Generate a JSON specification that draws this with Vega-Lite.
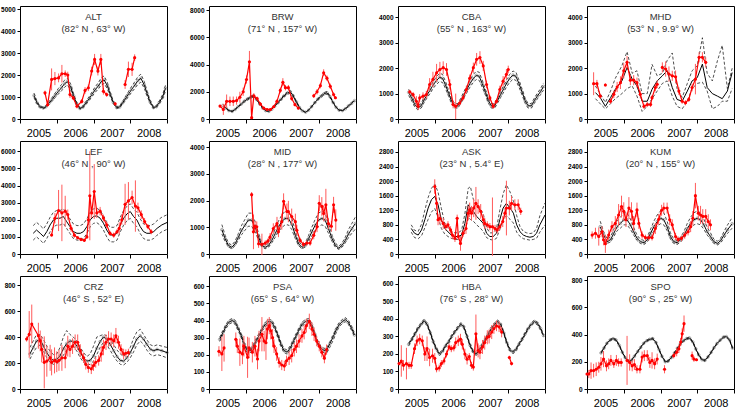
{
"$schema":"https://vega.github.io/schema/vega-lite/v6.json",
"padding":{"left":0,"top":5,"right":0,"bottom":0},
"background":"#ffffff",
"columns":4,
"spacing":{"row":22,"column":42},
"bounds":"flush",
"config":{
 "view":{"stroke":"#000","strokeWidth":1},
 "axis":{"domain":false,"grid":false,"labelFont":"Liberation Sans","tickColor":"#000","labelColor":"#000"},
 "axisY":{"labelFontSize":6.5,"labelFontWeight":"bold","tickSize":3,"labelPadding":2,"format":"d"},
 "axisX":{"labelFontSize":11,"labelPadding":4,"tickSize":4},
 "title":{"offset":-27,"fontSize":9.5,"font":"Liberation Sans","fontWeight":"normal","color":"#333","anchor":"middle","lineHeight":11.5},
 "line":{"clip":true},
 "point":{"clip":true}
},
"datasets":{
"m":[
{"s":"ALT","t":2005.38,"v":1070,"l":970,"h":1180},{"s":"ALT","t":2005.46,"v":750,"l":690,"h":820},{"s":"ALT","t":2005.54,"v":560,"l":520,"h":610},{"s":"ALT","t":2005.63,"v":500,"l":470,"h":540},{"s":"ALT","t":2005.71,"v":560,"l":520,"h":610},{"s":"ALT","t":2005.79,"v":720,"l":660,"h":790},{"s":"ALT","t":2005.88,"v":900,"l":820,"h":990},{"s":"ALT","t":2005.96,"v":1080,"l":980,"h":1190},{"s":"ALT","t":2006.04,"v":1250,"l":1130,"h":1380},{"s":"ALT","t":2006.13,"v":1420,"l":1280,"h":1570},{"s":"ALT","t":2006.21,"v":1600,"l":1440,"h":1760},{"s":"ALT","t":2006.29,"v":1700,"l":1550,"h":1850},{"s":"ALT","t":2006.38,"v":1450,"l":1320,"h":1590},{"s":"ALT","t":2006.46,"v":1050,"l":950,"h":1150},{"s":"ALT","t":2006.54,"v":700,"l":640,"h":770},{"s":"ALT","t":2006.63,"v":480,"l":450,"h":520},{"s":"ALT","t":2006.71,"v":540,"l":500,"h":590},{"s":"ALT","t":2006.79,"v":720,"l":660,"h":790},{"s":"ALT","t":2006.88,"v":920,"l":840,"h":1010},{"s":"ALT","t":2006.96,"v":1120,"l":1020,"h":1230},{"s":"ALT","t":2007.04,"v":1320,"l":1200,"h":1450},{"s":"ALT","t":2007.13,"v":1500,"l":1360,"h":1650},{"s":"ALT","t":2007.21,"v":1700,"l":1540,"h":1870},{"s":"ALT","t":2007.29,"v":1780,"l":1620,"h":1960},{"s":"ALT","t":2007.38,"v":1500,"l":1360,"h":1650},{"s":"ALT","t":2007.46,"v":1100,"l":1000,"h":1210},{"s":"ALT","t":2007.54,"v":750,"l":690,"h":820},{"s":"ALT","t":2007.63,"v":520,"l":480,"h":570},{"s":"ALT","t":2007.71,"v":540,"l":500,"h":590},{"s":"ALT","t":2007.79,"v":730,"l":670,"h":800},{"s":"ALT","t":2007.88,"v":950,"l":860,"h":1050},{"s":"ALT","t":2007.96,"v":1150,"l":1040,"h":1270},{"s":"ALT","t":2008.04,"v":1350,"l":1220,"h":1490},{"s":"ALT","t":2008.13,"v":1550,"l":1400,"h":1710},{"s":"ALT","t":2008.21,"v":1750,"l":1580,"h":1930},{"s":"ALT","t":2008.29,"v":1850,"l":1680,"h":2040},{"s":"ALT","t":2008.38,"v":1550,"l":1400,"h":1710},{"s":"ALT","t":2008.46,"v":1150,"l":1040,"h":1270},{"s":"ALT","t":2008.54,"v":780,"l":710,"h":860},{"s":"ALT","t":2008.63,"v":520,"l":480,"h":570},{"s":"ALT","t":2008.71,"v":560,"l":520,"h":610},{"s":"ALT","t":2008.79,"v":750,"l":690,"h":820},{"s":"ALT","t":2008.88,"v":1000,"l":910,"h":1100},{"s":"ALT","t":2008.96,"v":1400,"l":1270,"h":1540},
{"s":"BRW","t":2005.38,"v":1000,"l":950,"h":1050},{"s":"BRW","t":2005.46,"v":800,"l":760,"h":840},{"s":"BRW","t":2005.54,"v":620,"l":590,"h":650},{"s":"BRW","t":2005.63,"v":560,"l":530,"h":590},{"s":"BRW","t":2005.71,"v":700,"l":665,"h":735},{"s":"BRW","t":2005.79,"v":900,"l":855,"h":945},{"s":"BRW","t":2005.88,"v":1100,"l":1045,"h":1155},{"s":"BRW","t":2005.96,"v":1300,"l":1235,"h":1365},{"s":"BRW","t":2006.04,"v":1450,"l":1380,"h":1520},{"s":"BRW","t":2006.13,"v":1600,"l":1520,"h":1680},{"s":"BRW","t":2006.21,"v":1680,"l":1600,"h":1760},{"s":"BRW","t":2006.29,"v":1450,"l":1380,"h":1520},{"s":"BRW","t":2006.38,"v":1100,"l":1045,"h":1155},{"s":"BRW","t":2006.46,"v":800,"l":760,"h":840},{"s":"BRW","t":2006.54,"v":620,"l":590,"h":650},{"s":"BRW","t":2006.63,"v":560,"l":530,"h":590},{"s":"BRW","t":2006.71,"v":720,"l":685,"h":755},{"s":"BRW","t":2006.79,"v":950,"l":900,"h":1000},{"s":"BRW","t":2006.88,"v":1200,"l":1140,"h":1260},{"s":"BRW","t":2006.96,"v":1450,"l":1380,"h":1520},{"s":"BRW","t":2007.04,"v":1700,"l":1615,"h":1785},{"s":"BRW","t":2007.13,"v":1900,"l":1805,"h":1995},{"s":"BRW","t":2007.21,"v":2000,"l":1900,"h":2100},{"s":"BRW","t":2007.29,"v":1700,"l":1615,"h":1785},{"s":"BRW","t":2007.38,"v":1250,"l":1190,"h":1310},{"s":"BRW","t":2007.46,"v":850,"l":810,"h":890},{"s":"BRW","t":2007.54,"v":600,"l":570,"h":630},{"s":"BRW","t":2007.63,"v":500,"l":475,"h":525},{"s":"BRW","t":2007.71,"v":650,"l":620,"h":680},{"s":"BRW","t":2007.79,"v":900,"l":855,"h":945},{"s":"BRW","t":2007.88,"v":1200,"l":1140,"h":1260},{"s":"BRW","t":2007.96,"v":1450,"l":1380,"h":1520},{"s":"BRW","t":2008.04,"v":1650,"l":1570,"h":1730},{"s":"BRW","t":2008.13,"v":1850,"l":1760,"h":1940},{"s":"BRW","t":2008.21,"v":1930,"l":1830,"h":2030},{"s":"BRW","t":2008.29,"v":1650,"l":1570,"h":1730},{"s":"BRW","t":2008.38,"v":1200,"l":1140,"h":1260},{"s":"BRW","t":2008.46,"v":850,"l":810,"h":890},{"s":"BRW","t":2008.54,"v":650,"l":620,"h":680},{"s":"BRW","t":2008.63,"v":620,"l":590,"h":650},{"s":"BRW","t":2008.71,"v":750,"l":710,"h":790},{"s":"BRW","t":2008.79,"v":950,"l":900,"h":1000},{"s":"BRW","t":2008.88,"v":1150,"l":1090,"h":1210},{"s":"BRW","t":2008.96,"v":1350,"l":1280,"h":1420},
{"s":"CBA","t":2005.29,"v":1050,"l":930,"h":1170},{"s":"CBA","t":2005.38,"v":800,"l":690,"h":910},{"s":"CBA","t":2005.46,"v":560,"l":470,"h":650},{"s":"CBA","t":2005.54,"v":440,"l":360,"h":520},{"s":"CBA","t":2005.63,"v":520,"l":430,"h":610},{"s":"CBA","t":2005.71,"v":750,"l":645,"h":855},{"s":"CBA","t":2005.79,"v":950,"l":830,"h":1070},{"s":"CBA","t":2005.88,"v":1150,"l":1020,"h":1280},{"s":"CBA","t":2005.96,"v":1350,"l":1210,"h":1490},{"s":"CBA","t":2006.04,"v":1500,"l":1350,"h":1650},{"s":"CBA","t":2006.13,"v":1640,"l":1480,"h":1800},{"s":"CBA","t":2006.21,"v":1600,"l":1440,"h":1760},{"s":"CBA","t":2006.29,"v":1350,"l":1210,"h":1490},{"s":"CBA","t":2006.38,"v":1000,"l":880,"h":1120},{"s":"CBA","t":2006.46,"v":700,"l":600,"h":800},{"s":"CBA","t":2006.54,"v":520,"l":430,"h":610},{"s":"CBA","t":2006.63,"v":520,"l":430,"h":610},{"s":"CBA","t":2006.71,"v":720,"l":620,"h":820},{"s":"CBA","t":2006.79,"v":950,"l":830,"h":1070},{"s":"CBA","t":2006.88,"v":1180,"l":1050,"h":1310},{"s":"CBA","t":2006.96,"v":1400,"l":1260,"h":1540},{"s":"CBA","t":2007.04,"v":1580,"l":1420,"h":1740},{"s":"CBA","t":2007.13,"v":1720,"l":1560,"h":1880},{"s":"CBA","t":2007.21,"v":1680,"l":1520,"h":1840},{"s":"CBA","t":2007.29,"v":1400,"l":1260,"h":1540},{"s":"CBA","t":2007.38,"v":1050,"l":930,"h":1170},{"s":"CBA","t":2007.46,"v":720,"l":620,"h":820},{"s":"CBA","t":2007.54,"v":520,"l":430,"h":610},{"s":"CBA","t":2007.63,"v":520,"l":430,"h":610},{"s":"CBA","t":2007.71,"v":730,"l":630,"h":830},{"s":"CBA","t":2007.79,"v":960,"l":840,"h":1080},{"s":"CBA","t":2007.88,"v":1200,"l":1070,"h":1330},{"s":"CBA","t":2007.96,"v":1420,"l":1280,"h":1560},{"s":"CBA","t":2008.04,"v":1600,"l":1440,"h":1760},{"s":"CBA","t":2008.13,"v":1730,"l":1570,"h":1890},{"s":"CBA","t":2008.21,"v":1680,"l":1520,"h":1840},{"s":"CBA","t":2008.29,"v":1400,"l":1260,"h":1540},{"s":"CBA","t":2008.38,"v":1050,"l":930,"h":1170},{"s":"CBA","t":2008.46,"v":720,"l":620,"h":820},{"s":"CBA","t":2008.54,"v":520,"l":430,"h":610},{"s":"CBA","t":2008.63,"v":520,"l":430,"h":610},{"s":"CBA","t":2008.71,"v":720,"l":620,"h":820},{"s":"CBA","t":2008.79,"v":900,"l":790,"h":1010},{"s":"CBA","t":2008.88,"v":1080,"l":960,"h":1200},{"s":"CBA","t":2008.96,"v":1280,"l":1140,"h":1420},
{"s":"MHD","t":2005.23,"v":1040,"l":800,"h":1300},{"s":"MHD","t":2005.36,"v":840,"l":600,"h":1000},{"s":"MHD","t":2005.5,"v":500,"l":400,"h":650},{"s":"MHD","t":2005.64,"v":840,"l":600,"h":1100},{"s":"MHD","t":2005.77,"v":1170,"l":800,"h":1600},{"s":"MHD","t":2005.95,"v":1500,"l":1000,"h":2100},{"s":"MHD","t":2006.09,"v":2030,"l":1200,"h":2650},{"s":"MHD","t":2006.23,"v":1570,"l":1300,"h":1800},{"s":"MHD","t":2006.36,"v":1300,"l":900,"h":1900},{"s":"MHD","t":2006.5,"v":700,"l":300,"h":1000},{"s":"MHD","t":2006.64,"v":700,"l":500,"h":1000},{"s":"MHD","t":2006.77,"v":1170,"l":800,"h":2150},{"s":"MHD","t":2006.91,"v":1500,"l":1100,"h":1700},{"s":"MHD","t":2007.05,"v":1700,"l":1400,"h":1800},{"s":"MHD","t":2007.18,"v":1900,"l":1500,"h":2300},{"s":"MHD","t":2007.32,"v":1240,"l":900,"h":2600},{"s":"MHD","t":2007.45,"v":770,"l":500,"h":1200},{"s":"MHD","t":2007.59,"v":700,"l":400,"h":850},{"s":"MHD","t":2007.73,"v":1100,"l":700,"h":1400},{"s":"MHD","t":2007.86,"v":1500,"l":1200,"h":1900},{"s":"MHD","t":2008.0,"v":1630,"l":1400,"h":2100},{"s":"MHD","t":2008.14,"v":2160,"l":1450,"h":3200},{"s":"MHD","t":2008.27,"v":1240,"l":1100,"h":1800},{"s":"MHD","t":2008.41,"v":1000,"l":400,"h":1500},{"s":"MHD","t":2008.55,"v":900,"l":500,"h":2300},{"s":"MHD","t":2008.68,"v":800,"l":700,"h":2900},{"s":"MHD","t":2008.82,"v":1100,"l":700,"h":1200},{"s":"MHD","t":2008.95,"v":1830,"l":1200,"h":2000},
{"s":"LEF","t":2005.36,"v":1210,"l":810,"h":1660},{"s":"LEF","t":2005.45,"v":1400,"l":1000,"h":1850},{"s":"LEF","t":2005.55,"v":1210,"l":810,"h":1660},{"s":"LEF","t":2005.64,"v":1020,"l":620,"h":1470},{"s":"LEF","t":2005.73,"v":1310,"l":910,"h":1760},{"s":"LEF","t":2005.82,"v":1700,"l":1300,"h":2150},{"s":"LEF","t":2005.91,"v":1990,"l":1590,"h":2440},{"s":"LEF","t":2006.0,"v":2090,"l":1690,"h":2540},{"s":"LEF","t":2006.09,"v":2090,"l":1690,"h":2540},{"s":"LEF","t":2006.18,"v":2190,"l":1790,"h":2640},{"s":"LEF","t":2006.27,"v":1890,"l":1490,"h":2340},{"s":"LEF","t":2006.36,"v":1600,"l":1200,"h":2050},{"s":"LEF","t":2006.45,"v":1310,"l":910,"h":1760},{"s":"LEF","t":2006.55,"v":1210,"l":810,"h":1660},{"s":"LEF","t":2006.64,"v":1210,"l":810,"h":1660},{"s":"LEF","t":2006.73,"v":1310,"l":910,"h":1760},{"s":"LEF","t":2006.82,"v":1600,"l":1200,"h":2050},{"s":"LEF","t":2006.91,"v":1990,"l":1590,"h":2440},{"s":"LEF","t":2007.0,"v":2190,"l":1790,"h":2640},{"s":"LEF","t":2007.09,"v":2230,"l":1830,"h":2680},{"s":"LEF","t":2007.18,"v":2090,"l":1690,"h":2540},{"s":"LEF","t":2007.27,"v":1800,"l":1400,"h":2250},{"s":"LEF","t":2007.36,"v":1400,"l":1000,"h":1850},{"s":"LEF","t":2007.45,"v":1110,"l":710,"h":1560},{"s":"LEF","t":2007.55,"v":1110,"l":710,"h":1560},{"s":"LEF","t":2007.64,"v":1210,"l":810,"h":1660},{"s":"LEF","t":2007.73,"v":1700,"l":1300,"h":2150},{"s":"LEF","t":2007.82,"v":2090,"l":1690,"h":2540},{"s":"LEF","t":2007.91,"v":2340,"l":1940,"h":2790},{"s":"LEF","t":2008.0,"v":2480,"l":2080,"h":2930},{"s":"LEF","t":2008.09,"v":2190,"l":1790,"h":2640},{"s":"LEF","t":2008.18,"v":1990,"l":1590,"h":2440},{"s":"LEF","t":2008.27,"v":1600,"l":1200,"h":2050},{"s":"LEF","t":2008.36,"v":1310,"l":910,"h":1760},{"s":"LEF","t":2008.45,"v":1210,"l":810,"h":1660},{"s":"LEF","t":2008.55,"v":1210,"l":810,"h":1660},{"s":"LEF","t":2008.64,"v":1310,"l":910,"h":1760},{"s":"LEF","t":2008.73,"v":1500,"l":1100,"h":1950},{"s":"LEF","t":2008.86,"v":1700,"l":1300,"h":2150},{"s":"LEF","t":2009.0,"v":1840,"l":1440,"h":2290},
{"s":"MID","t":2005.35,"v":910,"l":750,"h":1100},{"s":"MID","t":2005.44,"v":570,"l":470,"h":700},{"s":"MID","t":2005.53,"v":320,"l":260,"h":410},{"s":"MID","t":2005.62,"v":250,"l":200,"h":330},{"s":"MID","t":2005.71,"v":380,"l":310,"h":480},{"s":"MID","t":2005.8,"v":630,"l":520,"h":770},{"s":"MID","t":2005.89,"v":890,"l":730,"h":1080},{"s":"MID","t":2005.98,"v":1080,"l":890,"h":1300},{"s":"MID","t":2006.07,"v":1270,"l":1040,"h":1530},{"s":"MID","t":2006.16,"v":1270,"l":1040,"h":1530},{"s":"MID","t":2006.25,"v":1020,"l":840,"h":1230},{"s":"MID","t":2006.35,"v":630,"l":520,"h":770},{"s":"MID","t":2006.44,"v":320,"l":260,"h":410},{"s":"MID","t":2006.53,"v":250,"l":200,"h":330},{"s":"MID","t":2006.62,"v":320,"l":260,"h":410},{"s":"MID","t":2006.71,"v":510,"l":420,"h":630},{"s":"MID","t":2006.8,"v":760,"l":620,"h":930},{"s":"MID","t":2006.89,"v":1020,"l":840,"h":1230},{"s":"MID","t":2006.98,"v":1210,"l":990,"h":1460},{"s":"MID","t":2007.07,"v":1330,"l":1090,"h":1600},{"s":"MID","t":2007.16,"v":1330,"l":1090,"h":1600},{"s":"MID","t":2007.25,"v":1120,"l":920,"h":1350},{"s":"MID","t":2007.35,"v":700,"l":570,"h":860},{"s":"MID","t":2007.44,"v":380,"l":310,"h":480},{"s":"MID","t":2007.53,"v":250,"l":200,"h":330},{"s":"MID","t":2007.62,"v":320,"l":260,"h":410},{"s":"MID","t":2007.71,"v":570,"l":470,"h":700},{"s":"MID","t":2007.8,"v":830,"l":680,"h":1010},{"s":"MID","t":2007.89,"v":1080,"l":890,"h":1300},{"s":"MID","t":2007.98,"v":1270,"l":1040,"h":1530},{"s":"MID","t":2008.07,"v":1330,"l":1090,"h":1600},{"s":"MID","t":2008.16,"v":1270,"l":1040,"h":1530},{"s":"MID","t":2008.25,"v":950,"l":780,"h":1150},{"s":"MID","t":2008.35,"v":570,"l":470,"h":700},{"s":"MID","t":2008.44,"v":320,"l":260,"h":410},{"s":"MID","t":2008.53,"v":220,"l":180,"h":290},{"s":"MID","t":2008.62,"v":320,"l":260,"h":410},{"s":"MID","t":2008.71,"v":510,"l":420,"h":630},{"s":"MID","t":2008.8,"v":760,"l":620,"h":930},{"s":"MID","t":2008.89,"v":950,"l":780,"h":1150},{"s":"MID","t":2008.98,"v":1140,"l":930,"h":1380},
{"s":"ASK","t":2005.36,"v":700,"l":600,"h":800},{"s":"ASK","t":2005.45,"v":570,"l":450,"h":650},{"s":"ASK","t":2005.55,"v":520,"l":420,"h":620},{"s":"ASK","t":2005.64,"v":660,"l":500,"h":820},{"s":"ASK","t":2005.73,"v":940,"l":720,"h":1200},{"s":"ASK","t":2005.82,"v":1260,"l":950,"h":1550},{"s":"ASK","t":2005.91,"v":1490,"l":1150,"h":1800},{"s":"ASK","t":2006.0,"v":1580,"l":1250,"h":1920},{"s":"ASK","t":2006.09,"v":1350,"l":1000,"h":1700},{"s":"ASK","t":2006.18,"v":940,"l":700,"h":1250},{"s":"ASK","t":2006.27,"v":700,"l":550,"h":850},{"s":"ASK","t":2006.36,"v":610,"l":480,"h":720},{"s":"ASK","t":2006.45,"v":520,"l":430,"h":620},{"s":"ASK","t":2006.55,"v":480,"l":400,"h":580},{"s":"ASK","t":2006.64,"v":480,"l":400,"h":580},{"s":"ASK","t":2006.73,"v":520,"l":420,"h":650},{"s":"ASK","t":2006.82,"v":840,"l":620,"h":1100},{"s":"ASK","t":2006.91,"v":1350,"l":1000,"h":1800},{"s":"ASK","t":2006.97,"v":1260,"l":950,"h":1850},{"s":"ASK","t":2007.05,"v":1170,"l":900,"h":1500},{"s":"ASK","t":2007.14,"v":1030,"l":800,"h":1350},{"s":"ASK","t":2007.23,"v":940,"l":720,"h":1250},{"s":"ASK","t":2007.32,"v":840,"l":620,"h":1100},{"s":"ASK","t":2007.41,"v":570,"l":450,"h":720},{"s":"ASK","t":2007.5,"v":480,"l":400,"h":580},{"s":"ASK","t":2007.59,"v":480,"l":380,"h":580},{"s":"ASK","t":2007.68,"v":570,"l":430,"h":700},{"s":"ASK","t":2007.77,"v":940,"l":680,"h":1200},{"s":"ASK","t":2007.86,"v":1260,"l":950,"h":1650},{"s":"ASK","t":2007.95,"v":1390,"l":1050,"h":1900},{"s":"ASK","t":2008.05,"v":1260,"l":950,"h":1700},{"s":"ASK","t":2008.14,"v":1120,"l":850,"h":1450},{"s":"ASK","t":2008.23,"v":800,"l":600,"h":1050},{"s":"ASK","t":2008.32,"v":610,"l":480,"h":750},{"s":"ASK","t":2008.41,"v":520,"l":420,"h":620},{"s":"ASK","t":2008.5,"v":480,"l":400,"h":580},{"s":"ASK","t":2008.59,"v":460,"l":380,"h":560},{"s":"ASK","t":2008.68,"v":480,"l":400,"h":580},{"s":"ASK","t":2008.77,"v":570,"l":430,"h":700},{"s":"ASK","t":2008.86,"v":800,"l":600,"h":1050},{"s":"ASK","t":2009.0,"v":1070,"l":800,"h":1400},
{"s":"KUM","t":2005.36,"v":750,"l":640,"h":900},{"s":"KUM","t":2005.45,"v":520,"l":440,"h":620},{"s":"KUM","t":2005.55,"v":340,"l":290,"h":410},{"s":"KUM","t":2005.64,"v":390,"l":330,"h":470},{"s":"KUM","t":2005.73,"v":570,"l":480,"h":680},{"s":"KUM","t":2005.82,"v":750,"l":640,"h":900},{"s":"KUM","t":2005.91,"v":840,"l":710,"h":1010},{"s":"KUM","t":2006.0,"v":940,"l":800,"h":1130},{"s":"KUM","t":2006.09,"v":940,"l":800,"h":1130},{"s":"KUM","t":2006.18,"v":800,"l":680,"h":960},{"s":"KUM","t":2006.27,"v":610,"l":520,"h":730},{"s":"KUM","t":2006.36,"v":430,"l":370,"h":520},{"s":"KUM","t":2006.45,"v":340,"l":290,"h":410},{"s":"KUM","t":2006.55,"v":310,"l":260,"h":370},{"s":"KUM","t":2006.64,"v":390,"l":330,"h":470},{"s":"KUM","t":2006.73,"v":570,"l":480,"h":680},{"s":"KUM","t":2006.82,"v":750,"l":640,"h":900},{"s":"KUM","t":2006.91,"v":890,"l":760,"h":1070},{"s":"KUM","t":2007.0,"v":980,"l":830,"h":1180},{"s":"KUM","t":2007.09,"v":940,"l":800,"h":1130},{"s":"KUM","t":2007.18,"v":750,"l":640,"h":900},{"s":"KUM","t":2007.27,"v":480,"l":410,"h":580},{"s":"KUM","t":2007.36,"v":340,"l":290,"h":410},{"s":"KUM","t":2007.45,"v":310,"l":260,"h":370},{"s":"KUM","t":2007.55,"v":390,"l":330,"h":470},{"s":"KUM","t":2007.64,"v":520,"l":440,"h":620},{"s":"KUM","t":2007.73,"v":700,"l":600,"h":840},{"s":"KUM","t":2007.82,"v":840,"l":710,"h":1010},{"s":"KUM","t":2007.91,"v":940,"l":800,"h":1130},{"s":"KUM","t":2008.0,"v":980,"l":830,"h":1180},{"s":"KUM","t":2008.09,"v":940,"l":800,"h":1130},{"s":"KUM","t":2008.18,"v":800,"l":680,"h":960},{"s":"KUM","t":2008.27,"v":610,"l":520,"h":730},{"s":"KUM","t":2008.36,"v":480,"l":410,"h":580},{"s":"KUM","t":2008.45,"v":340,"l":290,"h":410},{"s":"KUM","t":2008.55,"v":290,"l":250,"h":350},{"s":"KUM","t":2008.64,"v":370,"l":310,"h":440},{"s":"KUM","t":2008.73,"v":520,"l":440,"h":620},{"s":"KUM","t":2008.82,"v":660,"l":560,"h":790},{"s":"KUM","t":2008.95,"v":830,"l":710,"h":1000},
{"s":"CRZ","t":2005.27,"v":270,"l":230,"h":320},{"s":"CRZ","t":2005.36,"v":320,"l":280,"h":370},{"s":"CRZ","t":2005.45,"v":370,"l":320,"h":420},{"s":"CRZ","t":2005.55,"v":380,"l":340,"h":420},{"s":"CRZ","t":2005.64,"v":330,"l":290,"h":380},{"s":"CRZ","t":2005.73,"v":280,"l":240,"h":330},{"s":"CRZ","t":2005.82,"v":240,"l":205,"h":290},{"s":"CRZ","t":2005.91,"v":220,"l":190,"h":265},{"s":"CRZ","t":2006.0,"v":230,"l":195,"h":270},{"s":"CRZ","t":2006.09,"v":255,"l":215,"h":320},{"s":"CRZ","t":2006.18,"v":310,"l":260,"h":400},{"s":"CRZ","t":2006.27,"v":350,"l":300,"h":450},{"s":"CRZ","t":2006.36,"v":370,"l":330,"h":420},{"s":"CRZ","t":2006.45,"v":365,"l":330,"h":400},{"s":"CRZ","t":2006.55,"v":330,"l":290,"h":370},{"s":"CRZ","t":2006.64,"v":280,"l":240,"h":320},{"s":"CRZ","t":2006.73,"v":240,"l":205,"h":280},{"s":"CRZ","t":2006.82,"v":215,"l":185,"h":250},{"s":"CRZ","t":2006.91,"v":220,"l":190,"h":270},{"s":"CRZ","t":2007.0,"v":255,"l":215,"h":330},{"s":"CRZ","t":2007.09,"v":315,"l":265,"h":400},{"s":"CRZ","t":2007.18,"v":365,"l":320,"h":410},{"s":"CRZ","t":2007.27,"v":400,"l":360,"h":420},{"s":"CRZ","t":2007.36,"v":385,"l":340,"h":410},{"s":"CRZ","t":2007.45,"v":345,"l":300,"h":380},{"s":"CRZ","t":2007.55,"v":295,"l":250,"h":340},{"s":"CRZ","t":2007.64,"v":250,"l":215,"h":300},{"s":"CRZ","t":2007.73,"v":220,"l":190,"h":270},{"s":"CRZ","t":2007.82,"v":215,"l":185,"h":250},{"s":"CRZ","t":2007.91,"v":240,"l":205,"h":275},{"s":"CRZ","t":2008.0,"v":280,"l":240,"h":320},{"s":"CRZ","t":2008.09,"v":330,"l":285,"h":390},{"s":"CRZ","t":2008.18,"v":385,"l":340,"h":440},{"s":"CRZ","t":2008.27,"v":410,"l":370,"h":460},{"s":"CRZ","t":2008.36,"v":385,"l":345,"h":420},{"s":"CRZ","t":2008.45,"v":345,"l":300,"h":380},{"s":"CRZ","t":2008.55,"v":305,"l":265,"h":340},{"s":"CRZ","t":2008.64,"v":295,"l":255,"h":330},{"s":"CRZ","t":2008.73,"v":305,"l":265,"h":340},{"s":"CRZ","t":2008.86,"v":295,"l":255,"h":330},{"s":"CRZ","t":2009.0,"v":280,"l":240,"h":320},
{"s":"PSA","t":2005.29,"v":290,"l":278,"h":302},{"s":"PSA","t":2005.38,"v":330,"l":318,"h":342},{"s":"PSA","t":2005.46,"v":365,"l":353,"h":377},{"s":"PSA","t":2005.54,"v":390,"l":378,"h":402},{"s":"PSA","t":2005.63,"v":400,"l":388,"h":412},{"s":"PSA","t":2005.71,"v":390,"l":378,"h":402},{"s":"PSA","t":2005.79,"v":355,"l":343,"h":367},{"s":"PSA","t":2005.88,"v":310,"l":298,"h":322},{"s":"PSA","t":2005.96,"v":260,"l":248,"h":272},{"s":"PSA","t":2006.04,"v":225,"l":213,"h":237},{"s":"PSA","t":2006.13,"v":225,"l":213,"h":237},{"s":"PSA","t":2006.21,"v":250,"l":238,"h":262},{"s":"PSA","t":2006.29,"v":285,"l":273,"h":297},{"s":"PSA","t":2006.38,"v":320,"l":308,"h":332},{"s":"PSA","t":2006.46,"v":355,"l":343,"h":367},{"s":"PSA","t":2006.54,"v":380,"l":368,"h":392},{"s":"PSA","t":2006.63,"v":395,"l":383,"h":407},{"s":"PSA","t":2006.71,"v":390,"l":378,"h":402},{"s":"PSA","t":2006.79,"v":360,"l":348,"h":372},{"s":"PSA","t":2006.88,"v":310,"l":298,"h":322},{"s":"PSA","t":2006.96,"v":260,"l":248,"h":272},{"s":"PSA","t":2007.04,"v":225,"l":213,"h":237},{"s":"PSA","t":2007.13,"v":215,"l":203,"h":227},{"s":"PSA","t":2007.21,"v":240,"l":228,"h":252},{"s":"PSA","t":2007.29,"v":275,"l":263,"h":287},{"s":"PSA","t":2007.38,"v":315,"l":303,"h":327},{"s":"PSA","t":2007.46,"v":350,"l":338,"h":362},{"s":"PSA","t":2007.54,"v":380,"l":368,"h":392},{"s":"PSA","t":2007.63,"v":395,"l":383,"h":407},{"s":"PSA","t":2007.71,"v":400,"l":388,"h":412},{"s":"PSA","t":2007.79,"v":375,"l":363,"h":387},{"s":"PSA","t":2007.88,"v":320,"l":308,"h":332},{"s":"PSA","t":2007.96,"v":270,"l":258,"h":282},{"s":"PSA","t":2008.04,"v":240,"l":228,"h":252},{"s":"PSA","t":2008.13,"v":225,"l":210,"h":237},{"s":"PSA","t":2008.21,"v":230,"l":212,"h":242},{"s":"PSA","t":2008.29,"v":265,"l":245,"h":277},{"s":"PSA","t":2008.38,"v":305,"l":285,"h":317},{"s":"PSA","t":2008.46,"v":345,"l":328,"h":357},{"s":"PSA","t":2008.54,"v":375,"l":363,"h":387},{"s":"PSA","t":2008.63,"v":395,"l":383,"h":407},{"s":"PSA","t":2008.71,"v":405,"l":393,"h":417},{"s":"PSA","t":2008.79,"v":390,"l":378,"h":402},{"s":"PSA","t":2008.88,"v":355,"l":343,"h":367},{"s":"PSA","t":2008.96,"v":315,"l":303,"h":327},
{"s":"HBA","t":2005.29,"v":255,"l":247,"h":263},{"s":"HBA","t":2005.38,"v":285,"l":277,"h":293},{"s":"HBA","t":2005.46,"v":315,"l":307,"h":323},{"s":"HBA","t":2005.54,"v":345,"l":337,"h":353},{"s":"HBA","t":2005.63,"v":370,"l":362,"h":378},{"s":"HBA","t":2005.71,"v":390,"l":382,"h":398},{"s":"HBA","t":2005.79,"v":370,"l":362,"h":378},{"s":"HBA","t":2005.88,"v":320,"l":312,"h":328},{"s":"HBA","t":2005.96,"v":270,"l":262,"h":278},{"s":"HBA","t":2006.04,"v":230,"l":222,"h":238},{"s":"HBA","t":2006.13,"v":200,"l":192,"h":208},{"s":"HBA","t":2006.21,"v":215,"l":207,"h":223},{"s":"HBA","t":2006.29,"v":245,"l":237,"h":253},{"s":"HBA","t":2006.38,"v":270,"l":262,"h":278},{"s":"HBA","t":2006.46,"v":300,"l":292,"h":308},{"s":"HBA","t":2006.54,"v":325,"l":317,"h":333},{"s":"HBA","t":2006.63,"v":350,"l":342,"h":358},{"s":"HBA","t":2006.71,"v":370,"l":362,"h":378},{"s":"HBA","t":2006.79,"v":355,"l":347,"h":363},{"s":"HBA","t":2006.88,"v":300,"l":292,"h":308},{"s":"HBA","t":2006.96,"v":250,"l":242,"h":258},{"s":"HBA","t":2007.04,"v":215,"l":207,"h":223},{"s":"HBA","t":2007.13,"v":200,"l":192,"h":208},{"s":"HBA","t":2007.21,"v":220,"l":212,"h":228},{"s":"HBA","t":2007.29,"v":250,"l":242,"h":258},{"s":"HBA","t":2007.38,"v":285,"l":277,"h":293},{"s":"HBA","t":2007.46,"v":315,"l":307,"h":323},{"s":"HBA","t":2007.54,"v":345,"l":337,"h":353},{"s":"HBA","t":2007.63,"v":370,"l":362,"h":378},{"s":"HBA","t":2007.71,"v":385,"l":377,"h":393},{"s":"HBA","t":2007.79,"v":370,"l":362,"h":378},{"s":"HBA","t":2007.88,"v":320,"l":312,"h":328},{"s":"HBA","t":2007.96,"v":265,"l":257,"h":273},{"s":"HBA","t":2008.04,"v":225,"l":217,"h":233},{"s":"HBA","t":2008.13,"v":210,"l":202,"h":218},{"s":"HBA","t":2008.21,"v":225,"l":217,"h":233},{"s":"HBA","t":2008.29,"v":255,"l":247,"h":263},{"s":"HBA","t":2008.38,"v":285,"l":277,"h":293},{"s":"HBA","t":2008.46,"v":315,"l":307,"h":323},{"s":"HBA","t":2008.54,"v":345,"l":337,"h":353},{"s":"HBA","t":2008.63,"v":370,"l":362,"h":378},{"s":"HBA","t":2008.71,"v":385,"l":377,"h":393},{"s":"HBA","t":2008.79,"v":375,"l":367,"h":383},{"s":"HBA","t":2008.88,"v":345,"l":337,"h":353},{"s":"HBA","t":2008.96,"v":305,"l":297,"h":313},
{"s":"SPO","t":2005.38,"v":265,"l":259,"h":271},{"s":"SPO","t":2005.46,"v":300,"l":294,"h":306},{"s":"SPO","t":2005.54,"v":335,"l":329,"h":341},{"s":"SPO","t":2005.63,"v":360,"l":354,"h":366},{"s":"SPO","t":2005.71,"v":370,"l":364,"h":376},{"s":"SPO","t":2005.79,"v":360,"l":354,"h":366},{"s":"SPO","t":2005.88,"v":320,"l":314,"h":326},{"s":"SPO","t":2005.96,"v":270,"l":264,"h":276},{"s":"SPO","t":2006.04,"v":230,"l":224,"h":236},{"s":"SPO","t":2006.13,"v":205,"l":199,"h":211},{"s":"SPO","t":2006.21,"v":210,"l":204,"h":216},{"s":"SPO","t":2006.29,"v":240,"l":234,"h":246},{"s":"SPO","t":2006.38,"v":275,"l":269,"h":281},{"s":"SPO","t":2006.46,"v":305,"l":299,"h":311},{"s":"SPO","t":2006.54,"v":335,"l":329,"h":341},{"s":"SPO","t":2006.63,"v":355,"l":349,"h":361},{"s":"SPO","t":2006.71,"v":365,"l":359,"h":371},{"s":"SPO","t":2006.79,"v":370,"l":364,"h":376},{"s":"SPO","t":2006.88,"v":340,"l":334,"h":346},{"s":"SPO","t":2006.96,"v":290,"l":284,"h":296},{"s":"SPO","t":2007.04,"v":240,"l":234,"h":246},{"s":"SPO","t":2007.13,"v":200,"l":194,"h":206},{"s":"SPO","t":2007.21,"v":205,"l":199,"h":211},{"s":"SPO","t":2007.29,"v":230,"l":224,"h":236},{"s":"SPO","t":2007.38,"v":265,"l":259,"h":271},{"s":"SPO","t":2007.46,"v":300,"l":294,"h":306},{"s":"SPO","t":2007.54,"v":330,"l":324,"h":336},{"s":"SPO","t":2007.63,"v":355,"l":349,"h":361},{"s":"SPO","t":2007.71,"v":370,"l":364,"h":376},{"s":"SPO","t":2007.79,"v":375,"l":369,"h":381},{"s":"SPO","t":2007.88,"v":345,"l":339,"h":351},{"s":"SPO","t":2007.96,"v":295,"l":289,"h":301},{"s":"SPO","t":2008.04,"v":250,"l":244,"h":256},{"s":"SPO","t":2008.13,"v":215,"l":209,"h":221},{"s":"SPO","t":2008.21,"v":210,"l":204,"h":216},{"s":"SPO","t":2008.29,"v":235,"l":229,"h":241},{"s":"SPO","t":2008.38,"v":270,"l":264,"h":276},{"s":"SPO","t":2008.46,"v":305,"l":299,"h":311},{"s":"SPO","t":2008.54,"v":335,"l":329,"h":341},{"s":"SPO","t":2008.63,"v":360,"l":354,"h":366},{"s":"SPO","t":2008.71,"v":380,"l":374,"h":386},{"s":"SPO","t":2008.79,"v":385,"l":379,"h":391},{"s":"SPO","t":2008.88,"v":360,"l":354,"h":366},{"s":"SPO","t":2008.96,"v":300,"l":294,"h":306}
],
"o":[
{"s":"ALT","t":2005.68,"v":1190,"e":100,"g":"a"},{"s":"ALT","t":2005.75,"v":650,"e":100,"g":"a"},{"s":"ALT","t":2005.86,"v":1800,"e":500,"g":"a"},{"s":"ALT","t":2005.95,"v":1840,"e":300,"g":"a"},{"s":"ALT","t":2006.05,"v":1870,"e":200,"g":"a"},{"s":"ALT","t":2006.14,"v":2060,"e":400,"g":"a"},{"s":"ALT","t":2006.23,"v":2060,"e":150,"g":"a"},{"s":"ALT","t":2006.3,"v":2000,"e":150,"g":"a"},{"s":"ALT","t":2006.36,"v":1110,"e":150,"g":"a"},{"s":"ALT","t":2006.45,"v":960,"e":100,"g":"a"},{"s":"ALT","t":2006.55,"v":580,"e":100,"g":"a"},{"s":"ALT","t":2006.68,"v":800,"e":100,"g":"a"},{"s":"ALT","t":2006.77,"v":1300,"e":150,"g":"a"},{"s":"ALT","t":2006.86,"v":1420,"e":150,"g":"a"},{"s":"ALT","t":2006.95,"v":2180,"e":200,"g":"a"},{"s":"ALT","t":2007.03,"v":2710,"e":250,"g":"a"},{"s":"ALT","t":2007.12,"v":2180,"e":200,"g":"a"},{"s":"ALT","t":2007.2,"v":2710,"e":250,"g":"a"},{"s":"ALT","t":2007.27,"v":1260,"e":150,"g":"a"},{"s":"ALT","t":2007.36,"v":1110,"e":100,"g":"a"},{"s":"ALT","t":2007.59,"v":690,"e":80,"g":"b"},{"s":"ALT","t":2007.86,"v":1570,"e":200,"g":"c"},{"s":"ALT","t":2007.95,"v":2260,"e":350,"g":"c"},{"s":"ALT","t":2008.05,"v":2260,"e":300,"g":"c"},{"s":"ALT","t":2008.12,"v":2790,"e":150,"g":"c"},
{"s":"BRW","t":2005.3,"v":950,"e":100,"g":"a"},{"s":"BRW","t":2005.39,"v":700,"e":400,"g":"a"},{"s":"BRW","t":2005.48,"v":1300,"e":500,"g":"a"},{"s":"BRW","t":2005.57,"v":1300,"e":350,"g":"a"},{"s":"BRW","t":2005.66,"v":1300,"e":350,"g":"a"},{"s":"BRW","t":2005.75,"v":1350,"e":300,"g":"a"},{"s":"BRW","t":2005.84,"v":1600,"e":400,"g":"a"},{"s":"BRW","t":2005.93,"v":2000,"e":300,"g":"a"},{"s":"BRW","t":2006.02,"v":2900,"e":300,"g":"a"},{"s":"BRW","t":2006.1,"v":4200,"e":800,"g":"a"},{"s":"BRW","t":2006.16,"v":100,"e":100,"g":"a"},{"s":"BRW","t":2006.22,"v":1700,"e":200,"g":"a"},{"s":"BRW","t":2006.31,"v":1500,"e":150,"g":"a"},{"s":"BRW","t":2006.4,"v":1100,"e":150,"g":"a"},{"s":"BRW","t":2006.49,"v":800,"e":100,"g":"a"},{"s":"BRW","t":2006.58,"v":700,"e":100,"g":"a"},{"s":"BRW","t":2006.67,"v":700,"e":100,"g":"a"},{"s":"BRW","t":2006.76,"v":900,"e":100,"g":"a"},{"s":"BRW","t":2006.85,"v":1300,"e":150,"g":"a"},{"s":"BRW","t":2006.94,"v":2100,"e":200,"g":"a"},{"s":"BRW","t":2007.01,"v":2700,"e":300,"g":"a"},{"s":"BRW","t":2007.08,"v":2300,"e":200,"g":"a"},{"s":"BRW","t":2007.16,"v":2300,"e":200,"g":"a"},{"s":"BRW","t":2007.25,"v":1500,"e":150,"g":"a"},{"s":"BRW","t":2007.34,"v":1050,"e":100,"g":"a"},{"s":"BRW","t":2007.43,"v":800,"e":100,"g":"a"},{"s":"BRW","t":2007.85,"v":1700,"e":150,"g":"b"},{"s":"BRW","t":2007.94,"v":2000,"e":200,"g":"b"},{"s":"BRW","t":2008.03,"v":2450,"e":200,"g":"b"},{"s":"BRW","t":2008.12,"v":3400,"e":250,"g":"b"},{"s":"BRW","t":2008.21,"v":3000,"e":200,"g":"b"},{"s":"BRW","t":2008.3,"v":2400,"e":200,"g":"b"},{"s":"BRW","t":2008.39,"v":1800,"e":150,"g":"b"},{"s":"BRW","t":2008.44,"v":1560,"e":100,"g":"b"},
{"s":"CBA","t":2005.32,"v":1070,"e":80,"g":"a"},{"s":"CBA","t":2005.41,"v":960,"e":100,"g":"a"},{"s":"CBA","t":2005.5,"v":700,"e":200,"g":"a"},{"s":"CBA","t":2005.55,"v":500,"e":150,"g":"a"},{"s":"CBA","t":2005.59,"v":830,"e":150,"g":"a"},{"s":"CBA","t":2005.68,"v":900,"e":150,"g":"a"},{"s":"CBA","t":2005.77,"v":960,"e":150,"g":"a"},{"s":"CBA","t":2005.86,"v":1360,"e":250,"g":"a"},{"s":"CBA","t":2005.95,"v":1560,"e":300,"g":"a"},{"s":"CBA","t":2006.05,"v":1820,"e":350,"g":"a"},{"s":"CBA","t":2006.14,"v":1950,"e":300,"g":"a"},{"s":"CBA","t":2006.23,"v":2020,"e":250,"g":"a"},{"s":"CBA","t":2006.32,"v":1950,"e":250,"g":"a"},{"s":"CBA","t":2006.41,"v":1360,"e":200,"g":"a"},{"s":"CBA","t":2006.5,"v":570,"e":150,"g":"a"},{"s":"CBA","t":2006.57,"v":500,"e":500,"g":"a"},{"s":"CBA","t":2006.68,"v":630,"e":100,"g":"a"},{"s":"CBA","t":2006.77,"v":830,"e":100,"g":"a"},{"s":"CBA","t":2006.86,"v":1160,"e":150,"g":"a"},{"s":"CBA","t":2006.95,"v":1600,"e":150,"g":"a"},{"s":"CBA","t":2007.05,"v":2020,"e":200,"g":"a"},{"s":"CBA","t":2007.14,"v":2350,"e":250,"g":"a"},{"s":"CBA","t":2007.23,"v":2420,"e":250,"g":"a"},{"s":"CBA","t":2007.32,"v":2090,"e":200,"g":"a"},{"s":"CBA","t":2007.41,"v":1360,"e":150,"g":"a"},{"s":"CBA","t":2007.5,"v":830,"e":100,"g":"a"},{"s":"CBA","t":2007.59,"v":500,"e":100,"g":"a"},{"s":"CBA","t":2007.68,"v":700,"e":100,"g":"a"},{"s":"CBA","t":2007.77,"v":1160,"e":150,"g":"a"},{"s":"CBA","t":2007.86,"v":1490,"e":200,"g":"a"},{"s":"CBA","t":2007.95,"v":1760,"e":200,"g":"a"},{"s":"CBA","t":2008.0,"v":1950,"e":150,"g":"a"},
{"s":"MHD","t":2005.18,"v":1390,"e":450,"g":"a"},{"s":"MHD","t":2005.27,"v":1390,"e":150,"g":"a"},{"s":"MHD","t":2005.36,"v":900,"e":100,"g":"a"},{"s":"MHD","t":2005.5,"v":1340,"e":60,"g":"b"},{"s":"MHD","t":2005.64,"v":700,"e":100,"g":"c"},{"s":"MHD","t":2005.73,"v":970,"e":150,"g":"c"},{"s":"MHD","t":2005.82,"v":1260,"e":200,"g":"c"},{"s":"MHD","t":2005.91,"v":1430,"e":250,"g":"c"},{"s":"MHD","t":2006.0,"v":1900,"e":300,"g":"c"},{"s":"MHD","t":2006.09,"v":2230,"e":250,"g":"c"},{"s":"MHD","t":2006.18,"v":1530,"e":200,"g":"c"},{"s":"MHD","t":2006.27,"v":1530,"e":200,"g":"c"},{"s":"MHD","t":2006.36,"v":1430,"e":200,"g":"c"},{"s":"MHD","t":2006.45,"v":970,"e":150,"g":"c"},{"s":"MHD","t":2006.55,"v":500,"e":100,"g":"c"},{"s":"MHD","t":2006.64,"v":570,"e":100,"g":"c"},{"s":"MHD","t":2006.73,"v":570,"e":100,"g":"c"},{"s":"MHD","t":2006.77,"v":840,"e":100,"g":"c"},{"s":"MHD","t":2006.86,"v":1240,"e":150,"g":"c"},{"s":"MHD","t":2006.91,"v":1370,"e":150,"g":"c"},{"s":"MHD","t":2007.05,"v":2030,"e":200,"g":"d"},{"s":"MHD","t":2007.14,"v":1970,"e":300,"g":"d"},{"s":"MHD","t":2007.23,"v":1770,"e":300,"g":"d"},{"s":"MHD","t":2007.32,"v":1700,"e":200,"g":"d"},{"s":"MHD","t":2007.41,"v":1660,"e":250,"g":"d"},{"s":"MHD","t":2007.5,"v":1100,"e":150,"g":"d"},{"s":"MHD","t":2007.59,"v":700,"e":100,"g":"d"},{"s":"MHD","t":2007.68,"v":640,"e":100,"g":"d"},{"s":"MHD","t":2007.77,"v":770,"e":100,"g":"d"},{"s":"MHD","t":2007.86,"v":1240,"e":150,"g":"d"},{"s":"MHD","t":2007.95,"v":1570,"e":600,"g":"d"},{"s":"MHD","t":2008.05,"v":2430,"e":200,"g":"d"},{"s":"MHD","t":2008.14,"v":2430,"e":200,"g":"d"},{"s":"MHD","t":2008.23,"v":2230,"e":200,"g":"d"},
{"s":"LEF","t":2005.86,"v":1110,"e":100,"g":"a"},{"s":"LEF","t":2005.95,"v":2090,"e":300,"g":"a"},{"s":"LEF","t":2006.05,"v":2540,"e":1200,"g":"a"},{"s":"LEF","t":2006.14,"v":2400,"e":1650,"g":"a"},{"s":"LEF","t":2006.23,"v":2500,"e":900,"g":"a"},{"s":"LEF","t":2006.3,"v":2300,"e":300,"g":"a"},{"s":"LEF","t":2006.39,"v":1500,"e":200,"g":"a"},{"s":"LEF","t":2006.48,"v":1100,"e":150,"g":"a"},{"s":"LEF","t":2006.57,"v":950,"e":100,"g":"a"},{"s":"LEF","t":2006.66,"v":850,"e":100,"g":"a"},{"s":"LEF","t":2006.75,"v":800,"e":100,"g":"a"},{"s":"LEF","t":2006.82,"v":1000,"e":100,"g":"a"},{"s":"LEF","t":2006.86,"v":2000,"e":300,"g":"a"},{"s":"LEF","t":2006.9,"v":3400,"e":2600,"g":"a"},{"s":"LEF","t":2006.95,"v":2400,"e":300,"g":"a"},{"s":"LEF","t":2007.02,"v":3650,"e":1600,"g":"a"},{"s":"LEF","t":2007.09,"v":2400,"e":300,"g":"a"},{"s":"LEF","t":2007.18,"v":2500,"e":250,"g":"a"},{"s":"LEF","t":2007.27,"v":2100,"e":200,"g":"a"},{"s":"LEF","t":2007.36,"v":1700,"e":200,"g":"a"},{"s":"LEF","t":2007.45,"v":1200,"e":150,"g":"a"},{"s":"LEF","t":2007.55,"v":1100,"e":150,"g":"a"},{"s":"LEF","t":2007.64,"v":1300,"e":150,"g":"a"},{"s":"LEF","t":2007.7,"v":1500,"e":350,"g":"a"},{"s":"LEF","t":2007.77,"v":2000,"e":300,"g":"a"},{"s":"LEF","t":2007.86,"v":2900,"e":1200,"g":"a"},{"s":"LEF","t":2007.95,"v":3100,"e":1100,"g":"a"},{"s":"LEF","t":2008.05,"v":3300,"e":400,"g":"a"},{"s":"LEF","t":2008.14,"v":2800,"e":1500,"g":"a"},{"s":"LEF","t":2008.21,"v":2700,"e":300,"g":"a"},{"s":"LEF","t":2008.3,"v":2300,"e":250,"g":"a"},{"s":"LEF","t":2008.39,"v":1900,"e":200,"g":"a"},{"s":"LEF","t":2008.48,"v":1600,"e":150,"g":"a"},{"s":"LEF","t":2008.57,"v":1300,"e":150,"g":"a"},
{"s":"MID","t":2006.16,"v":2220,"e":100,"g":"a"},{"s":"MID","t":2006.21,"v":830,"e":650,"g":"a"},{"s":"MID","t":2006.25,"v":1040,"e":200,"g":"a"},{"s":"MID","t":2006.3,"v":1020,"e":200,"g":"a"},{"s":"MID","t":2006.35,"v":380,"e":150,"g":"a"},{"s":"MID","t":2006.44,"v":360,"e":400,"g":"a"},{"s":"MID","t":2006.53,"v":410,"e":100,"g":"a"},{"s":"MID","t":2006.6,"v":480,"e":100,"g":"a"},{"s":"MID","t":2006.66,"v":630,"e":150,"g":"a"},{"s":"MID","t":2006.75,"v":950,"e":200,"g":"a"},{"s":"MID","t":2006.85,"v":1140,"e":250,"g":"a"},{"s":"MID","t":2006.89,"v":830,"e":200,"g":"a"},{"s":"MID","t":2006.98,"v":1210,"e":300,"g":"a"},{"s":"MID","t":2007.03,"v":1970,"e":300,"g":"a"},{"s":"MID","t":2007.12,"v":1590,"e":300,"g":"a"},{"s":"MID","t":2007.16,"v":1590,"e":400,"g":"a"},{"s":"MID","t":2007.25,"v":1400,"e":300,"g":"a"},{"s":"MID","t":2007.35,"v":1210,"e":300,"g":"a"},{"s":"MID","t":2007.39,"v":890,"e":200,"g":"a"},{"s":"MID","t":2007.48,"v":510,"e":100,"g":"a"},{"s":"MID","t":2007.57,"v":360,"e":100,"g":"a"},{"s":"MID","t":2007.66,"v":410,"e":100,"g":"a"},{"s":"MID","t":2007.75,"v":410,"e":100,"g":"a"},{"s":"MID","t":2007.85,"v":700,"e":150,"g":"a"},{"s":"MID","t":2007.94,"v":1020,"e":200,"g":"a"},{"s":"MID","t":2008.0,"v":1900,"e":300,"g":"a"},{"s":"MID","t":2008.07,"v":1780,"e":350,"g":"a"},{"s":"MID","t":2008.12,"v":1520,"e":300,"g":"a"},{"s":"MID","t":2008.18,"v":1840,"e":600,"g":"a"},{"s":"MID","t":2008.25,"v":1140,"e":200,"g":"a"},{"s":"MID","t":2008.33,"v":1040,"e":200,"g":"a"},{"s":"MID","t":2008.39,"v":1840,"e":300,"g":"a"},{"s":"MID","t":2008.45,"v":1270,"e":400,"g":"a"},
{"s":"ASK","t":2006.0,"v":1850,"e":200,"g":"a"},{"s":"ASK","t":2006.05,"v":1390,"e":150,"g":"a"},{"s":"ASK","t":2006.09,"v":940,"e":150,"g":"a"},{"s":"ASK","t":2006.14,"v":980,"e":150,"g":"a"},{"s":"ASK","t":2006.23,"v":840,"e":150,"g":"a"},{"s":"ASK","t":2006.3,"v":750,"e":100,"g":"a"},{"s":"ASK","t":2006.36,"v":800,"e":100,"g":"a"},{"s":"ASK","t":2006.43,"v":660,"e":100,"g":"a"},{"s":"ASK","t":2006.48,"v":520,"e":100,"g":"a"},{"s":"ASK","t":2006.55,"v":430,"e":100,"g":"a"},{"s":"ASK","t":2006.61,"v":980,"e":100,"g":"a"},{"s":"ASK","t":2006.64,"v":480,"e":100,"g":"a"},{"s":"ASK","t":2006.7,"v":290,"e":200,"g":"a"},{"s":"ASK","t":2006.77,"v":570,"e":100,"g":"a"},{"s":"ASK","t":2006.85,"v":700,"e":150,"g":"a"},{"s":"ASK","t":2006.91,"v":1120,"e":200,"g":"a"},{"s":"ASK","t":2006.95,"v":1210,"e":200,"g":"a"},{"s":"ASK","t":2007.0,"v":1120,"e":200,"g":"a"},{"s":"ASK","t":2007.06,"v":1260,"e":250,"g":"a"},{"s":"ASK","t":2007.12,"v":1390,"e":450,"g":"a"},{"s":"ASK","t":2007.18,"v":1300,"e":200,"g":"a"},{"s":"ASK","t":2007.25,"v":1170,"e":200,"g":"a"},{"s":"ASK","t":2007.32,"v":940,"e":150,"g":"a"},{"s":"ASK","t":2007.36,"v":840,"e":150,"g":"a"},{"s":"ASK","t":2007.43,"v":800,"e":100,"g":"a"},{"s":"ASK","t":2007.5,"v":750,"e":100,"g":"a"},{"s":"ASK","t":2007.57,"v":750,"e":800,"g":"a"},{"s":"ASK","t":2007.64,"v":700,"e":100,"g":"a"},{"s":"ASK","t":2007.7,"v":660,"e":100,"g":"a"},{"s":"ASK","t":2007.77,"v":750,"e":100,"g":"a"},{"s":"ASK","t":2007.85,"v":890,"e":150,"g":"a"},{"s":"ASK","t":2007.91,"v":1120,"e":150,"g":"a"},{"s":"ASK","t":2007.95,"v":1260,"e":750,"g":"a"},{"s":"ASK","t":2008.03,"v":1260,"e":200,"g":"a"},{"s":"ASK","t":2008.09,"v":1390,"e":200,"g":"a"},{"s":"ASK","t":2008.18,"v":1350,"e":150,"g":"a"},{"s":"ASK","t":2008.27,"v":1350,"e":150,"g":"a"},{"s":"ASK","t":2008.34,"v":1170,"e":100,"g":"a"},
{"s":"KUM","t":2005.14,"v":520,"e":100,"g":"a"},{"s":"KUM","t":2005.23,"v":570,"e":150,"g":"a"},{"s":"KUM","t":2005.32,"v":480,"e":250,"g":"a"},{"s":"KUM","t":2005.41,"v":610,"e":150,"g":"a"},{"s":"KUM","t":2005.45,"v":390,"e":150,"g":"a"},{"s":"KUM","t":2005.5,"v":280,"e":250,"g":"a"},{"s":"KUM","t":2005.59,"v":520,"e":150,"g":"a"},{"s":"KUM","t":2005.68,"v":750,"e":150,"g":"a"},{"s":"KUM","t":2005.77,"v":840,"e":200,"g":"a"},{"s":"KUM","t":2005.86,"v":1070,"e":300,"g":"a"},{"s":"KUM","t":2005.94,"v":1300,"e":300,"g":"a"},{"s":"KUM","t":2006.0,"v":1170,"e":250,"g":"a"},{"s":"KUM","t":2006.06,"v":940,"e":200,"g":"a"},{"s":"KUM","t":2006.14,"v":1260,"e":300,"g":"a"},{"s":"KUM","t":2006.21,"v":1170,"e":250,"g":"a"},{"s":"KUM","t":2006.27,"v":840,"e":200,"g":"a"},{"s":"KUM","t":2006.36,"v":1210,"e":200,"g":"a"},{"s":"KUM","t":2006.41,"v":840,"e":150,"g":"a"},{"s":"KUM","t":2006.5,"v":520,"e":100,"g":"a"},{"s":"KUM","t":2006.59,"v":450,"e":80,"g":"a"},{"s":"KUM","t":2006.68,"v":450,"e":80,"g":"a"},{"s":"KUM","t":2006.77,"v":450,"e":80,"g":"a"},{"s":"KUM","t":2006.86,"v":700,"e":150,"g":"a"},{"s":"KUM","t":2006.95,"v":950,"e":150,"g":"a"},{"s":"KUM","t":2007.03,"v":1200,"e":150,"g":"a"},{"s":"KUM","t":2007.09,"v":1260,"e":150,"g":"a"},{"s":"KUM","t":2007.18,"v":1260,"e":150,"g":"a"},{"s":"KUM","t":2007.25,"v":940,"e":150,"g":"a"},{"s":"KUM","t":2007.32,"v":800,"e":150,"g":"a"},{"s":"KUM","t":2007.41,"v":480,"e":100,"g":"a"},{"s":"KUM","t":2007.48,"v":400,"e":80,"g":"a"},{"s":"KUM","t":2007.57,"v":430,"e":80,"g":"a"},{"s":"KUM","t":2007.66,"v":520,"e":100,"g":"a"},{"s":"KUM","t":2007.75,"v":610,"e":100,"g":"a"},{"s":"KUM","t":2007.82,"v":750,"e":150,"g":"a"},{"s":"KUM","t":2007.88,"v":980,"e":200,"g":"a"},{"s":"KUM","t":2007.95,"v":1600,"e":350,"g":"a"},{"s":"KUM","t":2008.03,"v":1120,"e":200,"g":"a"},{"s":"KUM","t":2008.09,"v":1070,"e":250,"g":"a"},{"s":"KUM","t":2008.15,"v":1030,"e":200,"g":"a"},{"s":"KUM","t":2008.23,"v":1030,"e":200,"g":"a"},{"s":"KUM","t":2008.3,"v":890,"e":200,"g":"a"},{"s":"KUM","t":2008.36,"v":800,"e":150,"g":"a"},
{"s":"CRZ","t":2005.18,"v":385,"e":20,"g":"a"},{"s":"CRZ","t":2005.25,"v":420,"e":180,"g":"a"},{"s":"CRZ","t":2005.32,"v":500,"e":150,"g":"a"},{"s":"CRZ","t":2005.5,"v":410,"e":100,"g":"a"},{"s":"CRZ","t":2005.55,"v":370,"e":80,"g":"a"},{"s":"CRZ","t":2005.59,"v":305,"e":100,"g":"a"},{"s":"CRZ","t":2005.66,"v":205,"e":200,"g":"a"},{"s":"CRZ","t":2005.73,"v":215,"e":120,"g":"a"},{"s":"CRZ","t":2005.82,"v":240,"e":100,"g":"a"},{"s":"CRZ","t":2005.86,"v":205,"e":100,"g":"a"},{"s":"CRZ","t":2005.94,"v":220,"e":100,"g":"a"},{"s":"CRZ","t":2006.0,"v":210,"e":80,"g":"a"},{"s":"CRZ","t":2006.06,"v":220,"e":80,"g":"a"},{"s":"CRZ","t":2006.14,"v":240,"e":100,"g":"a"},{"s":"CRZ","t":2006.23,"v":240,"e":80,"g":"a"},{"s":"CRZ","t":2006.3,"v":330,"e":80,"g":"a"},{"s":"CRZ","t":2006.36,"v":305,"e":60,"g":"a"},{"s":"CRZ","t":2006.43,"v":330,"e":60,"g":"a"},{"s":"CRZ","t":2006.5,"v":360,"e":60,"g":"a"},{"s":"CRZ","t":2006.57,"v":360,"e":60,"g":"a"},{"s":"CRZ","t":2006.64,"v":295,"e":50,"g":"a"},{"s":"CRZ","t":2006.73,"v":240,"e":40,"g":"a"},{"s":"CRZ","t":2006.79,"v":190,"e":40,"g":"a"},{"s":"CRZ","t":2006.86,"v":165,"e":40,"g":"a"},{"s":"CRZ","t":2006.94,"v":155,"e":40,"g":"a"},{"s":"CRZ","t":2007.0,"v":180,"e":40,"g":"a"},{"s":"CRZ","t":2007.06,"v":205,"e":40,"g":"a"},{"s":"CRZ","t":2007.14,"v":220,"e":40,"g":"a"},{"s":"CRZ","t":2007.21,"v":270,"e":60,"g":"a"},{"s":"CRZ","t":2007.27,"v":320,"e":60,"g":"a"},{"s":"CRZ","t":2007.34,"v":360,"e":60,"g":"a"},{"s":"CRZ","t":2007.41,"v":385,"e":60,"g":"a"},{"s":"CRZ","t":2007.48,"v":385,"e":50,"g":"a"},{"s":"CRZ","t":2007.55,"v":370,"e":50,"g":"a"},{"s":"CRZ","t":2007.61,"v":410,"e":60,"g":"a"},{"s":"CRZ","t":2007.68,"v":360,"e":50,"g":"a"},{"s":"CRZ","t":2007.75,"v":305,"e":40,"g":"a"},{"s":"CRZ","t":2007.82,"v":270,"e":40,"g":"a"},{"s":"CRZ","t":2007.88,"v":275,"e":30,"g":"a"},{"s":"CRZ","t":2007.95,"v":280,"e":30,"g":"a"},
{"s":"PSA","t":2005.27,"v":220,"e":30,"g":"a"},{"s":"PSA","t":2005.35,"v":205,"e":100,"g":"a"},{"s":"PSA","t":2005.41,"v":240,"e":80,"g":"a"},{"s":"PSA","t":2005.73,"v":290,"e":40,"g":"b"},{"s":"PSA","t":2005.77,"v":250,"e":40,"g":"b"},{"s":"PSA","t":2005.84,"v":215,"e":80,"g":"b"},{"s":"PSA","t":2005.91,"v":205,"e":60,"g":"b"},{"s":"PSA","t":2005.95,"v":250,"e":60,"g":"b"},{"s":"PSA","t":2006.05,"v":185,"e":120,"g":"b"},{"s":"PSA","t":2006.09,"v":240,"e":60,"g":"b"},{"s":"PSA","t":2006.18,"v":215,"e":60,"g":"b"},{"s":"PSA","t":2006.25,"v":250,"e":60,"g":"b"},{"s":"PSA","t":2006.32,"v":175,"e":60,"g":"b"},{"s":"PSA","t":2006.36,"v":280,"e":60,"g":"b"},{"s":"PSA","t":2006.44,"v":320,"e":100,"g":"b"},{"s":"PSA","t":2006.5,"v":280,"e":60,"g":"b"},{"s":"PSA","t":2006.55,"v":270,"e":100,"g":"b"},{"s":"PSA","t":2006.59,"v":350,"e":60,"g":"b"},{"s":"PSA","t":2006.64,"v":370,"e":50,"g":"b"},{"s":"PSA","t":2006.68,"v":340,"e":50,"g":"b"},{"s":"PSA","t":2006.73,"v":300,"e":50,"g":"b"},{"s":"PSA","t":2006.77,"v":250,"e":40,"g":"b"},{"s":"PSA","t":2006.84,"v":205,"e":40,"g":"b"},{"s":"PSA","t":2006.91,"v":155,"e":30,"g":"b"},{"s":"PSA","t":2006.98,"v":140,"e":30,"g":"b"},{"s":"PSA","t":2007.05,"v":135,"e":30,"g":"b"},{"s":"PSA","t":2007.11,"v":165,"e":30,"g":"b"},{"s":"PSA","t":2007.18,"v":180,"e":40,"g":"b"},{"s":"PSA","t":2007.25,"v":195,"e":40,"g":"b"},{"s":"PSA","t":2007.32,"v":230,"e":40,"g":"b"},{"s":"PSA","t":2007.38,"v":250,"e":40,"g":"b"},{"s":"PSA","t":2007.45,"v":280,"e":40,"g":"b"},{"s":"PSA","t":2007.53,"v":310,"e":40,"g":"b"},{"s":"PSA","t":2007.59,"v":330,"e":40,"g":"b"},{"s":"PSA","t":2007.65,"v":370,"e":40,"g":"b"},{"s":"PSA","t":2007.73,"v":395,"e":45,"g":"b"},{"s":"PSA","t":2007.8,"v":350,"e":40,"g":"b"},{"s":"PSA","t":2007.86,"v":320,"e":40,"g":"b"},{"s":"PSA","t":2007.93,"v":280,"e":30,"g":"b"},{"s":"PSA","t":2008.0,"v":250,"e":30,"g":"b"},{"s":"PSA","t":2008.07,"v":215,"e":30,"g":"b"},{"s":"PSA","t":2008.14,"v":180,"e":30,"g":"b"},{"s":"PSA","t":2008.2,"v":230,"e":30,"g":"b"},
{"s":"HBA","t":2005.03,"v":145,"e":10,"g":"a"},{"s":"HBA","t":2005.09,"v":160,"e":90,"g":"a"},{"s":"HBA","t":2005.15,"v":135,"e":30,"g":"a"},{"s":"HBA","t":2005.23,"v":145,"e":90,"g":"a"},{"s":"HBA","t":2005.3,"v":135,"e":20,"g":"a"},{"s":"HBA","t":2005.36,"v":135,"e":20,"g":"a"},{"s":"HBA","t":2005.45,"v":230,"e":30,"g":"a"},{"s":"HBA","t":2005.52,"v":275,"e":30,"g":"a"},{"s":"HBA","t":2005.59,"v":285,"e":30,"g":"a"},{"s":"HBA","t":2005.66,"v":275,"e":30,"g":"a"},{"s":"HBA","t":2005.73,"v":200,"e":40,"g":"a"},{"s":"HBA","t":2005.79,"v":230,"e":70,"g":"a"},{"s":"HBA","t":2005.86,"v":180,"e":50,"g":"a"},{"s":"HBA","t":2005.94,"v":190,"e":40,"g":"a"},{"s":"HBA","t":2006.0,"v":175,"e":30,"g":"a"},{"s":"HBA","t":2006.05,"v":115,"e":20,"g":"a"},{"s":"HBA","t":2006.12,"v":120,"e":20,"g":"a"},{"s":"HBA","t":2006.18,"v":145,"e":20,"g":"a"},{"s":"HBA","t":2006.25,"v":160,"e":20,"g":"a"},{"s":"HBA","t":2006.32,"v":200,"e":20,"g":"a"},{"s":"HBA","t":2006.39,"v":240,"e":20,"g":"a"},{"s":"HBA","t":2006.45,"v":230,"e":20,"g":"a"},{"s":"HBA","t":2006.52,"v":235,"e":20,"g":"a"},{"s":"HBA","t":2006.57,"v":265,"e":30,"g":"a"},{"s":"HBA","t":2006.64,"v":275,"e":30,"g":"a"},{"s":"HBA","t":2006.7,"v":285,"e":30,"g":"a"},{"s":"HBA","t":2006.75,"v":255,"e":30,"g":"a"},{"s":"HBA","t":2006.82,"v":200,"e":30,"g":"a"},{"s":"HBA","t":2006.88,"v":170,"e":30,"g":"a"},{"s":"HBA","t":2006.94,"v":185,"e":20,"g":"a"},{"s":"HBA","t":2007.0,"v":135,"e":20,"g":"a"},{"s":"HBA","t":2007.05,"v":125,"e":20,"g":"a"},{"s":"HBA","t":2007.12,"v":315,"e":110,"g":"a"},{"s":"HBA","t":2007.18,"v":220,"e":40,"g":"a"},{"s":"HBA","t":2007.23,"v":210,"e":40,"g":"a"},{"s":"HBA","t":2007.3,"v":240,"e":40,"g":"a"},{"s":"HBA","t":2007.36,"v":265,"e":40,"g":"a"},{"s":"HBA","t":2007.43,"v":295,"e":40,"g":"a"},{"s":"HBA","t":2007.48,"v":300,"e":40,"g":"a"},{"s":"HBA","t":2007.55,"v":325,"e":40,"g":"a"},{"s":"HBA","t":2007.61,"v":345,"e":30,"g":"a"},{"s":"HBA","t":2007.68,"v":360,"e":30,"g":"a"},{"s":"HBA","t":2007.75,"v":355,"e":30,"g":"a"},{"s":"HBA","t":2007.82,"v":325,"e":30,"g":"a"},{"s":"HBA","t":2008.03,"v":180,"e":10,"g":"b"},{"s":"HBA","t":2008.09,"v":145,"e":10,"g":"b"},
{"s":"SPO","t":2005.0,"v":110,"e":10,"g":"a"},{"s":"SPO","t":2005.05,"v":110,"e":30,"g":"a"},{"s":"SPO","t":2005.11,"v":135,"e":60,"g":"a"},{"s":"SPO","t":2005.18,"v":135,"e":50,"g":"a"},{"s":"SPO","t":2005.25,"v":145,"e":50,"g":"a"},{"s":"SPO","t":2005.32,"v":160,"e":40,"g":"a"},{"s":"SPO","t":2005.38,"v":185,"e":50,"g":"a"},{"s":"SPO","t":2005.45,"v":220,"e":60,"g":"a"},{"s":"SPO","t":2005.53,"v":170,"e":40,"g":"a"},{"s":"SPO","t":2005.59,"v":185,"e":40,"g":"a"},{"s":"SPO","t":2005.65,"v":210,"e":40,"g":"a"},{"s":"SPO","t":2005.73,"v":185,"e":30,"g":"a"},{"s":"SPO","t":2005.8,"v":210,"e":40,"g":"a"},{"s":"SPO","t":2005.86,"v":195,"e":30,"g":"a"},{"s":"SPO","t":2005.93,"v":195,"e":30,"g":"a"},{"s":"SPO","t":2006.09,"v":210,"e":180,"g":"b"},{"s":"SPO","t":2006.16,"v":195,"e":60,"g":"b"},{"s":"SPO","t":2006.23,"v":170,"e":40,"g":"b"},{"s":"SPO","t":2006.29,"v":180,"e":40,"g":"b"},{"s":"SPO","t":2006.36,"v":145,"e":30,"g":"b"},{"s":"SPO","t":2006.44,"v":145,"e":30,"g":"b"},{"s":"SPO","t":2006.5,"v":235,"e":40,"g":"b"},{"s":"SPO","t":2006.56,"v":245,"e":40,"g":"b"},{"s":"SPO","t":2006.64,"v":245,"e":40,"g":"b"},{"s":"SPO","t":2006.71,"v":195,"e":40,"g":"b"},{"s":"SPO","t":2006.77,"v":210,"e":60,"g":"b"},{"s":"SPO","t":2006.84,"v":185,"e":40,"g":"b"},{"s":"SPO","t":2006.91,"v":220,"e":40,"g":"b"},{"s":"SPO","t":2007.11,"v":145,"e":30,"g":"c"},{"s":"SPO","t":2007.36,"v":245,"e":20,"g":"d"},{"s":"SPO","t":2007.44,"v":270,"e":30,"g":"d"},{"s":"SPO","t":2007.5,"v":295,"e":30,"g":"d"},{"s":"SPO","t":2007.55,"v":345,"e":30,"g":"d"},{"s":"SPO","t":2007.59,"v":405,"e":40,"g":"d"},{"s":"SPO","t":2007.64,"v":480,"e":60,"g":"d"},{"s":"SPO","t":2007.86,"v":245,"e":30,"g":"e"},{"s":"SPO","t":2007.91,"v":220,"e":20,"g":"e"},{"s":"SPO","t":2007.98,"v":215,"e":10,"g":"e"}
]
},
"concat":[
{"title":{"text":["ALT","(82° N , 63° W)"]},"width":147,"height":113,
 "encoding":{"x":{"field":"t","type":"quantitative","scale":{"domain":[2005,2009],"nice":false,"zero":false},"axis":{"title":null,"values":[2005,2005.5,2006,2006.5,2007,2007.5,2008,2008.5,2009],"labelExpr":"datum.value % 1 == 0.5 ? '' + floor(datum.value) : ''","tickOpacity":{"condition":{"test":"datum.value % 1 != 0","value":0},"value":1},"labelFlush":false,"labelOverlap":false}},
  "y":{"field":"v","type":"quantitative","scale":{"domain":[0,5140],"nice":false},"axis":{"title":null,"values":[0,1000,2000,3000,4000,5000]}}},
 "layer":[
  {"data":{"name":"m"},"transform":[{"filter":"datum.s=='ALT'"},{"fold":["l","h"],"as":["key","v"]}],"mark":{"type":"line","strokeDash":[3,2],"strokeWidth":0.8,"color":"#222"},"encoding":{"detail":{"field":"key"}}},
  {"data":{"name":"m"},"transform":[{"filter":"datum.s=='ALT'"}],"mark":{"type":"line","strokeWidth":1,"color":"#000"},"encoding":{}},
  {"data":{"name":"m"},"transform":[{"filter":"datum.s=='ALT'"}],"mark":{"type":"point","size":7,"strokeWidth":0.6,"color":"#444"},"encoding":{}},
  {"data":{"name":"o"},"transform":[{"filter":"datum.s=='ALT'"}],"mark":{"type":"errorbar","color":"#ff5a5a","thickness":1},"encoding":{"yError":{"field":"e"}}},
  {"data":{"name":"o"},"transform":[{"filter":"datum.s=='ALT'"}],"mark":{"type":"line","strokeWidth":1.2,"color":"#f00"},"encoding":{"detail":{"field":"g"}}},
  {"data":{"name":"o"},"transform":[{"filter":"datum.s=='ALT'"}],"mark":{"type":"point","filled":true,"size":10,"opacity":1,"color":"#f00"},"encoding":{}}
 ]},
{"title":{"text":["BRW","(71° N , 157° W)"]},"width":147,"height":113,
 "encoding":{"x":{"field":"t","type":"quantitative","scale":{"domain":[2005,2009],"nice":false,"zero":false},"axis":{"title":null,"values":[2005,2005.5,2006,2006.5,2007,2007.5,2008,2008.5,2009],"labelExpr":"datum.value % 1 == 0.5 ? '' + floor(datum.value) : ''","tickOpacity":{"condition":{"test":"datum.value % 1 != 0","value":0},"value":1},"labelFlush":false,"labelOverlap":false}},
  "y":{"field":"v","type":"quantitative","scale":{"domain":[0,8300],"nice":false},"axis":{"title":null,"values":[0,2000,4000,6000,8000]}}},
 "layer":[
  {"data":{"name":"m"},"transform":[{"filter":"datum.s=='BRW'"},{"fold":["l","h"],"as":["key","v"]}],"mark":{"type":"line","strokeDash":[3,2],"strokeWidth":0.8,"color":"#222"},"encoding":{"detail":{"field":"key"}}},
  {"data":{"name":"m"},"transform":[{"filter":"datum.s=='BRW'"}],"mark":{"type":"line","strokeWidth":1,"color":"#000"},"encoding":{}},
  {"data":{"name":"m"},"transform":[{"filter":"datum.s=='BRW'"}],"mark":{"type":"point","size":7,"strokeWidth":0.6,"color":"#444"},"encoding":{}},
  {"data":{"name":"o"},"transform":[{"filter":"datum.s=='BRW'"}],"mark":{"type":"errorbar","color":"#ff5a5a","thickness":1},"encoding":{"yError":{"field":"e"}}},
  {"data":{"name":"o"},"transform":[{"filter":"datum.s=='BRW'"}],"mark":{"type":"line","strokeWidth":1.2,"color":"#f00"},"encoding":{"detail":{"field":"g"}}},
  {"data":{"name":"o"},"transform":[{"filter":"datum.s=='BRW'"}],"mark":{"type":"point","filled":true,"size":10,"opacity":1,"color":"#f00"},"encoding":{}}
 ]},
{"title":{"text":["CBA","(55° N , 163° W)"]},"width":147,"height":113,
 "encoding":{"x":{"field":"t","type":"quantitative","scale":{"domain":[2005,2009],"nice":false,"zero":false},"axis":{"title":null,"values":[2005,2005.5,2006,2006.5,2007,2007.5,2008,2008.5,2009],"labelExpr":"datum.value % 1 == 0.5 ? '' + floor(datum.value) : ''","tickOpacity":{"condition":{"test":"datum.value % 1 != 0","value":0},"value":1},"labelFlush":false,"labelOverlap":false}},
  "y":{"field":"v","type":"quantitative","scale":{"domain":[0,4450],"nice":false},"axis":{"title":null,"values":[0,1000,2000,3000,4000]}}},
 "layer":[
  {"data":{"name":"m"},"transform":[{"filter":"datum.s=='CBA'"},{"fold":["l","h"],"as":["key","v"]}],"mark":{"type":"line","strokeDash":[3,2],"strokeWidth":0.8,"color":"#222"},"encoding":{"detail":{"field":"key"}}},
  {"data":{"name":"m"},"transform":[{"filter":"datum.s=='CBA'"}],"mark":{"type":"line","strokeWidth":1,"color":"#000"},"encoding":{}},
  {"data":{"name":"m"},"transform":[{"filter":"datum.s=='CBA'"}],"mark":{"type":"point","size":7,"strokeWidth":0.6,"color":"#444"},"encoding":{}},
  {"data":{"name":"o"},"transform":[{"filter":"datum.s=='CBA'"}],"mark":{"type":"errorbar","color":"#ff5a5a","thickness":1},"encoding":{"yError":{"field":"e"}}},
  {"data":{"name":"o"},"transform":[{"filter":"datum.s=='CBA'"}],"mark":{"type":"line","strokeWidth":1.2,"color":"#f00"},"encoding":{"detail":{"field":"g"}}},
  {"data":{"name":"o"},"transform":[{"filter":"datum.s=='CBA'"}],"mark":{"type":"point","filled":true,"size":10,"opacity":1,"color":"#f00"},"encoding":{}}
 ]},
{"title":{"text":["MHD","(53° N , 9.9° W)"]},"width":147,"height":113,
 "encoding":{"x":{"field":"t","type":"quantitative","scale":{"domain":[2005,2009],"nice":false,"zero":false},"axis":{"title":null,"values":[2005,2005.5,2006,2006.5,2007,2007.5,2008,2008.5,2009],"labelExpr":"datum.value % 1 == 0.5 ? '' + floor(datum.value) : ''","tickOpacity":{"condition":{"test":"datum.value % 1 != 0","value":0},"value":1},"labelFlush":false,"labelOverlap":false}},
  "y":{"field":"v","type":"quantitative","scale":{"domain":[0,4450],"nice":false},"axis":{"title":null,"values":[0,1000,2000,3000,4000]}}},
 "layer":[
  {"data":{"name":"m"},"transform":[{"filter":"datum.s=='MHD'"},{"fold":["l","h"],"as":["key","v"]}],"mark":{"type":"line","strokeDash":[3,2],"strokeWidth":0.8,"color":"#222"},"encoding":{"detail":{"field":"key"}}},
  {"data":{"name":"m"},"transform":[{"filter":"datum.s=='MHD'"}],"mark":{"type":"line","strokeWidth":1,"color":"#000"},"encoding":{}},
  {"data":{"name":"o"},"transform":[{"filter":"datum.s=='MHD'"}],"mark":{"type":"errorbar","color":"#ff5a5a","thickness":1},"encoding":{"yError":{"field":"e"}}},
  {"data":{"name":"o"},"transform":[{"filter":"datum.s=='MHD'"}],"mark":{"type":"line","strokeWidth":1.2,"color":"#f00"},"encoding":{"detail":{"field":"g"}}},
  {"data":{"name":"o"},"transform":[{"filter":"datum.s=='MHD'"}],"mark":{"type":"point","filled":true,"size":10,"opacity":1,"color":"#f00"},"encoding":{}}
 ]},
{"title":{"text":["LEF","(46° N , 90° W)"]},"width":147,"height":113,
 "encoding":{"x":{"field":"t","type":"quantitative","scale":{"domain":[2005,2009],"nice":false,"zero":false},"axis":{"title":null,"values":[2005,2005.5,2006,2006.5,2007,2007.5,2008,2008.5,2009],"labelExpr":"datum.value % 1 == 0.5 ? '' + floor(datum.value) : ''","tickOpacity":{"condition":{"test":"datum.value % 1 != 0","value":0},"value":1},"labelFlush":false,"labelOverlap":false}},
  "y":{"field":"v","type":"quantitative","scale":{"domain":[0,6600],"nice":false},"axis":{"title":null,"values":[0,1000,2000,3000,4000,5000,6000]}}},
 "layer":[
  {"data":{"name":"m"},"transform":[{"filter":"datum.s=='LEF'"},{"fold":["l","h"],"as":["key","v"]}],"mark":{"type":"line","strokeDash":[3,2],"strokeWidth":0.8,"color":"#222"},"encoding":{"detail":{"field":"key"}}},
  {"data":{"name":"m"},"transform":[{"filter":"datum.s=='LEF'"}],"mark":{"type":"line","strokeWidth":1,"color":"#000"},"encoding":{}},
  {"data":{"name":"o"},"transform":[{"filter":"datum.s=='LEF'"}],"mark":{"type":"errorbar","color":"#ff5a5a","thickness":1},"encoding":{"yError":{"field":"e"}}},
  {"data":{"name":"o"},"transform":[{"filter":"datum.s=='LEF'"}],"mark":{"type":"line","strokeWidth":1.2,"color":"#f00"},"encoding":{"detail":{"field":"g"}}},
  {"data":{"name":"o"},"transform":[{"filter":"datum.s=='LEF'"}],"mark":{"type":"point","filled":true,"size":10,"opacity":1,"color":"#f00"},"encoding":{}}
 ]},
{"title":{"text":["MID","(28° N , 177° W)"]},"width":147,"height":113,
 "encoding":{"x":{"field":"t","type":"quantitative","scale":{"domain":[2005,2009],"nice":false,"zero":false},"axis":{"title":null,"values":[2005,2005.5,2006,2006.5,2007,2007.5,2008,2008.5,2009],"labelExpr":"datum.value % 1 == 0.5 ? '' + floor(datum.value) : ''","tickOpacity":{"condition":{"test":"datum.value % 1 != 0","value":0},"value":1},"labelFlush":false,"labelOverlap":false}},
  "y":{"field":"v","type":"quantitative","scale":{"domain":[0,4230],"nice":false},"axis":{"title":null,"values":[0,1000,2000,3000,4000]}}},
 "layer":[
  {"data":{"name":"m"},"transform":[{"filter":"datum.s=='MID'"},{"fold":["l","h"],"as":["key","v"]}],"mark":{"type":"line","strokeDash":[3,2],"strokeWidth":0.8,"color":"#222"},"encoding":{"detail":{"field":"key"}}},
  {"data":{"name":"m"},"transform":[{"filter":"datum.s=='MID'"}],"mark":{"type":"line","strokeWidth":1,"color":"#000"},"encoding":{}},
  {"data":{"name":"m"},"transform":[{"filter":"datum.s=='MID'"}],"mark":{"type":"point","size":7,"strokeWidth":0.6,"color":"#444"},"encoding":{}},
  {"data":{"name":"o"},"transform":[{"filter":"datum.s=='MID'"}],"mark":{"type":"errorbar","color":"#ff5a5a","thickness":1},"encoding":{"yError":{"field":"e"}}},
  {"data":{"name":"o"},"transform":[{"filter":"datum.s=='MID'"}],"mark":{"type":"line","strokeWidth":1.2,"color":"#f00"},"encoding":{"detail":{"field":"g"}}},
  {"data":{"name":"o"},"transform":[{"filter":"datum.s=='MID'"}],"mark":{"type":"point","filled":true,"size":10,"opacity":1,"color":"#f00"},"encoding":{}}
 ]},
{"title":{"text":["ASK","(23° N , 5.4° E)"]},"width":147,"height":113,
 "encoding":{"x":{"field":"t","type":"quantitative","scale":{"domain":[2005,2009],"nice":false,"zero":false},"axis":{"title":null,"values":[2005,2005.5,2006,2006.5,2007,2007.5,2008,2008.5,2009],"labelExpr":"datum.value % 1 == 0.5 ? '' + floor(datum.value) : ''","tickOpacity":{"condition":{"test":"datum.value % 1 != 0","value":0},"value":1},"labelFlush":false,"labelOverlap":false}},
  "y":{"field":"v","type":"quantitative","scale":{"domain":[0,3100],"nice":false},"axis":{"title":null,"values":[0,400,800,1200,1600,2000,2400,2800]}}},
 "layer":[
  {"data":{"name":"m"},"transform":[{"filter":"datum.s=='ASK'"},{"fold":["l","h"],"as":["key","v"]}],"mark":{"type":"line","strokeDash":[3,2],"strokeWidth":0.8,"color":"#222"},"encoding":{"detail":{"field":"key"}}},
  {"data":{"name":"m"},"transform":[{"filter":"datum.s=='ASK'"}],"mark":{"type":"line","strokeWidth":1,"color":"#000"},"encoding":{}},
  {"data":{"name":"o"},"transform":[{"filter":"datum.s=='ASK'"}],"mark":{"type":"errorbar","color":"#ff5a5a","thickness":1},"encoding":{"yError":{"field":"e"}}},
  {"data":{"name":"o"},"transform":[{"filter":"datum.s=='ASK'"}],"mark":{"type":"line","strokeWidth":1.2,"color":"#f00"},"encoding":{"detail":{"field":"g"}}},
  {"data":{"name":"o"},"transform":[{"filter":"datum.s=='ASK'"}],"mark":{"type":"point","filled":true,"size":10,"opacity":1,"color":"#f00"},"encoding":{}}
 ]},
{"title":{"text":["KUM","(20° N , 155° W)"]},"width":147,"height":113,
 "encoding":{"x":{"field":"t","type":"quantitative","scale":{"domain":[2005,2009],"nice":false,"zero":false},"axis":{"title":null,"values":[2005,2005.5,2006,2006.5,2007,2007.5,2008,2008.5,2009],"labelExpr":"datum.value % 1 == 0.5 ? '' + floor(datum.value) : ''","tickOpacity":{"condition":{"test":"datum.value % 1 != 0","value":0},"value":1},"labelFlush":false,"labelOverlap":false}},
  "y":{"field":"v","type":"quantitative","scale":{"domain":[0,3100],"nice":false},"axis":{"title":null,"values":[0,400,800,1200,1600,2000,2400,2800]}}},
 "layer":[
  {"data":{"name":"m"},"transform":[{"filter":"datum.s=='KUM'"},{"fold":["l","h"],"as":["key","v"]}],"mark":{"type":"line","strokeDash":[3,2],"strokeWidth":0.8,"color":"#222"},"encoding":{"detail":{"field":"key"}}},
  {"data":{"name":"m"},"transform":[{"filter":"datum.s=='KUM'"}],"mark":{"type":"line","strokeWidth":1,"color":"#000"},"encoding":{}},
  {"data":{"name":"m"},"transform":[{"filter":"datum.s=='KUM'"}],"mark":{"type":"point","size":7,"strokeWidth":0.6,"color":"#444"},"encoding":{}},
  {"data":{"name":"o"},"transform":[{"filter":"datum.s=='KUM'"}],"mark":{"type":"errorbar","color":"#ff5a5a","thickness":1},"encoding":{"yError":{"field":"e"}}},
  {"data":{"name":"o"},"transform":[{"filter":"datum.s=='KUM'"}],"mark":{"type":"line","strokeWidth":1.2,"color":"#f00"},"encoding":{"detail":{"field":"g"}}},
  {"data":{"name":"o"},"transform":[{"filter":"datum.s=='KUM'"}],"mark":{"type":"point","filled":true,"size":10,"opacity":1,"color":"#f00"},"encoding":{}}
 ]},
{"title":{"text":["CRZ","(46° S , 52° E)"]},"width":147,"height":113,
 "encoding":{"x":{"field":"t","type":"quantitative","scale":{"domain":[2005,2009],"nice":false,"zero":false},"axis":{"title":null,"values":[2005,2005.5,2006,2006.5,2007,2007.5,2008,2008.5,2009],"labelExpr":"datum.value % 1 == 0.5 ? '' + floor(datum.value) : ''","tickOpacity":{"condition":{"test":"datum.value % 1 != 0","value":0},"value":1},"labelFlush":false,"labelOverlap":false}},
  "y":{"field":"v","type":"quantitative","scale":{"domain":[0,870],"nice":false},"axis":{"title":null,"values":[0,200,400,600,800]}}},
 "layer":[
  {"data":{"name":"m"},"transform":[{"filter":"datum.s=='CRZ'"},{"fold":["l","h"],"as":["key","v"]}],"mark":{"type":"line","strokeDash":[3,2],"strokeWidth":0.8,"color":"#222"},"encoding":{"detail":{"field":"key"}}},
  {"data":{"name":"m"},"transform":[{"filter":"datum.s=='CRZ'"}],"mark":{"type":"line","strokeWidth":1,"color":"#000"},"encoding":{}},
  {"data":{"name":"m"},"transform":[{"filter":"datum.s=='CRZ'"}],"mark":{"type":"point","size":7,"strokeWidth":0.6,"color":"#444"},"encoding":{}},
  {"data":{"name":"o"},"transform":[{"filter":"datum.s=='CRZ'"}],"mark":{"type":"errorbar","color":"#ff5a5a","thickness":1},"encoding":{"yError":{"field":"e"}}},
  {"data":{"name":"o"},"transform":[{"filter":"datum.s=='CRZ'"}],"mark":{"type":"line","strokeWidth":1.2,"color":"#f00"},"encoding":{"detail":{"field":"g"}}},
  {"data":{"name":"o"},"transform":[{"filter":"datum.s=='CRZ'"}],"mark":{"type":"point","filled":true,"size":10,"opacity":1,"color":"#f00"},"encoding":{}}
 ]},
{"title":{"text":["PSA","(65° S , 64° W)"]},"width":147,"height":113,
 "encoding":{"x":{"field":"t","type":"quantitative","scale":{"domain":[2005,2009],"nice":false,"zero":false},"axis":{"title":null,"values":[2005,2005.5,2006,2006.5,2007,2007.5,2008,2008.5,2009],"labelExpr":"datum.value % 1 == 0.5 ? '' + floor(datum.value) : ''","tickOpacity":{"condition":{"test":"datum.value % 1 != 0","value":0},"value":1},"labelFlush":false,"labelOverlap":false}},
  "y":{"field":"v","type":"quantitative","scale":{"domain":[0,660],"nice":false},"axis":{"title":null,"values":[0,100,200,300,400,500,600]}}},
 "layer":[
  {"data":{"name":"m"},"transform":[{"filter":"datum.s=='PSA'"},{"fold":["l","h"],"as":["key","v"]}],"mark":{"type":"line","strokeDash":[3,2],"strokeWidth":0.8,"color":"#222"},"encoding":{"detail":{"field":"key"}}},
  {"data":{"name":"m"},"transform":[{"filter":"datum.s=='PSA'"}],"mark":{"type":"line","strokeWidth":1,"color":"#000"},"encoding":{}},
  {"data":{"name":"m"},"transform":[{"filter":"datum.s=='PSA'"}],"mark":{"type":"point","size":7,"strokeWidth":0.6,"color":"#444"},"encoding":{}},
  {"data":{"name":"o"},"transform":[{"filter":"datum.s=='PSA'"}],"mark":{"type":"errorbar","color":"#ff5a5a","thickness":1},"encoding":{"yError":{"field":"e"}}},
  {"data":{"name":"o"},"transform":[{"filter":"datum.s=='PSA'"}],"mark":{"type":"line","strokeWidth":1.2,"color":"#f00"},"encoding":{"detail":{"field":"g"}}},
  {"data":{"name":"o"},"transform":[{"filter":"datum.s=='PSA'"}],"mark":{"type":"point","filled":true,"size":10,"opacity":1,"color":"#f00"},"encoding":{}}
 ]},
{"title":{"text":["HBA","(76° S , 28° W)"]},"width":147,"height":113,
 "encoding":{"x":{"field":"t","type":"quantitative","scale":{"domain":[2005,2009],"nice":false,"zero":false},"axis":{"title":null,"values":[2005,2005.5,2006,2006.5,2007,2007.5,2008,2008.5,2009],"labelExpr":"datum.value % 1 == 0.5 ? '' + floor(datum.value) : ''","tickOpacity":{"condition":{"test":"datum.value % 1 != 0","value":0},"value":1},"labelFlush":false,"labelOverlap":false}},
  "y":{"field":"v","type":"quantitative","scale":{"domain":[0,645],"nice":false},"axis":{"title":null,"values":[0,100,200,300,400,500,600]}}},
 "layer":[
  {"data":{"name":"m"},"transform":[{"filter":"datum.s=='HBA'"},{"fold":["l","h"],"as":["key","v"]}],"mark":{"type":"line","strokeDash":[3,2],"strokeWidth":0.8,"color":"#222"},"encoding":{"detail":{"field":"key"}}},
  {"data":{"name":"m"},"transform":[{"filter":"datum.s=='HBA'"}],"mark":{"type":"line","strokeWidth":1,"color":"#000"},"encoding":{}},
  {"data":{"name":"m"},"transform":[{"filter":"datum.s=='HBA'"}],"mark":{"type":"point","size":7,"strokeWidth":0.6,"color":"#444"},"encoding":{}},
  {"data":{"name":"o"},"transform":[{"filter":"datum.s=='HBA'"}],"mark":{"type":"errorbar","color":"#ff5a5a","thickness":1},"encoding":{"yError":{"field":"e"}}},
  {"data":{"name":"o"},"transform":[{"filter":"datum.s=='HBA'"}],"mark":{"type":"line","strokeWidth":1.2,"color":"#f00"},"encoding":{"detail":{"field":"g"}}},
  {"data":{"name":"o"},"transform":[{"filter":"datum.s=='HBA'"}],"mark":{"type":"point","filled":true,"size":10,"opacity":1,"color":"#f00"},"encoding":{}}
 ]},
{"title":{"text":["SPO","(90° S , 25° W)"]},"width":147,"height":113,
 "encoding":{"x":{"field":"t","type":"quantitative","scale":{"domain":[2005,2009],"nice":false,"zero":false},"axis":{"title":null,"values":[2005,2005.5,2006,2006.5,2007,2007.5,2008,2008.5,2009],"labelExpr":"datum.value % 1 == 0.5 ? '' + floor(datum.value) : ''","tickOpacity":{"condition":{"test":"datum.value % 1 != 0","value":0},"value":1},"labelFlush":false,"labelOverlap":false}},
  "y":{"field":"v","type":"quantitative","scale":{"domain":[0,830],"nice":false},"axis":{"title":null,"values":[0,200,400,600,800]}}},
 "layer":[
  {"data":{"name":"m"},"transform":[{"filter":"datum.s=='SPO'"},{"fold":["l","h"],"as":["key","v"]}],"mark":{"type":"line","strokeDash":[3,2],"strokeWidth":0.8,"color":"#222"},"encoding":{"detail":{"field":"key"}}},
  {"data":{"name":"m"},"transform":[{"filter":"datum.s=='SPO'"}],"mark":{"type":"line","strokeWidth":1,"color":"#000"},"encoding":{}},
  {"data":{"name":"m"},"transform":[{"filter":"datum.s=='SPO'"}],"mark":{"type":"point","size":7,"strokeWidth":0.6,"color":"#444"},"encoding":{}},
  {"data":{"name":"o"},"transform":[{"filter":"datum.s=='SPO'"}],"mark":{"type":"errorbar","color":"#ff5a5a","thickness":1},"encoding":{"yError":{"field":"e"}}},
  {"data":{"name":"o"},"transform":[{"filter":"datum.s=='SPO'"}],"mark":{"type":"line","strokeWidth":1.2,"color":"#f00"},"encoding":{"detail":{"field":"g"}}},
  {"data":{"name":"o"},"transform":[{"filter":"datum.s=='SPO'"}],"mark":{"type":"point","filled":true,"size":10,"opacity":1,"color":"#f00"},"encoding":{}}
 ]}
]
}
